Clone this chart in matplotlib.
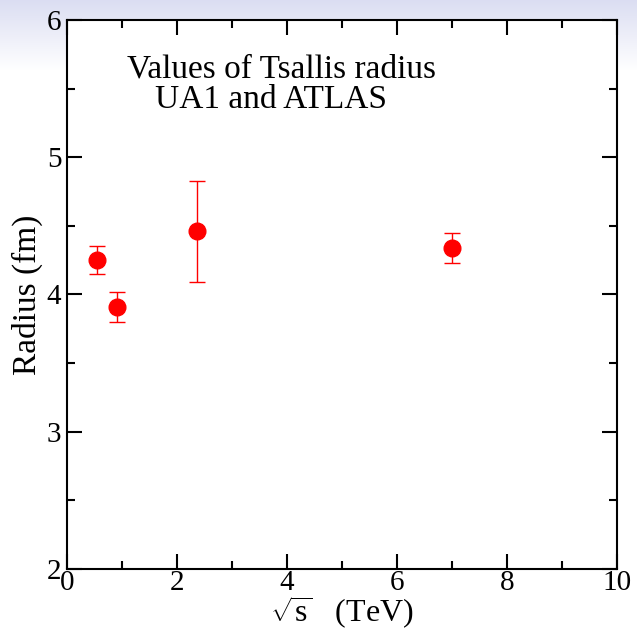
import numpy as np
import matplotlib
matplotlib.use("Agg")
import matplotlib.pyplot as plt
from matplotlib.ticker import MultipleLocator

# sqrt(s) in TeV, Tsallis radius (fm) and its error
energy = [0.546, 0.9, 2.36, 7.0]
radius = [4.25, 3.91, 4.46, 4.34]
radius_err = [0.10, 0.11, 0.37, 0.11]

plt.rcParams['font.family'] = ['Liberation Serif', 'DejaVu Serif']
plt.rcParams['mathtext.fontset'] = 'custom'
plt.rcParams['mathtext.rm'] = 'Liberation Serif'
plt.rcParams['mathtext.it'] = 'Liberation Serif'

fig = plt.figure(figsize=(6.37, 6.38), dpi=100)

# ---- soft gradient band at the top of the page ----
bg = fig.add_axes([0, 0, 1, 1], zorder=-10)
grad = np.ones((638, 1, 3))
top = np.array([0.86, 0.87, 0.95])
fade = np.clip(1 - np.arange(638) / 70.0, 0, 1)[:, None]
grad[:, 0, :] = 1 - fade * (1 - top)
bg.imshow(grad, aspect='auto', extent=[0, 1, 0, 1], origin='upper')
bg.axis('off')

ax = fig.add_axes([0.1052, 0.1082, 0.8634, 0.8605])
ax.errorbar(energy, radius, yerr=radius_err, fmt='o', color='red',
            markersize=12, capsize=5.5, elinewidth=1, capthick=1)

ax.set_xlim(0, 10)
ax.set_ylim(2, 6)
ax.xaxis.set_major_locator(MultipleLocator(2))
ax.xaxis.set_minor_locator(MultipleLocator(1))
ax.yaxis.set_major_locator(MultipleLocator(1))
ax.yaxis.set_minor_locator(MultipleLocator(0.5))
ax.tick_params(which='both', direction='in', top=True, right=True, width=1.5,
               labelsize=21)
ax.tick_params(which='major', length=11)
ax.tick_params(which='minor', length=5.5)
ax.tick_params(axis='x', pad=1)
ax.tick_params(axis='y', pad=4)
for sp in ax.spines.values():
    sp.set_linewidth(1.5)

ax.set_xlabel(r'$\sqrt{\rm s}$   (TeV)', fontsize=23, labelpad=-1)
ax.set_ylabel('Radius (fm)', fontsize=24, labelpad=3)

ax.text(1.09, 5.64, 'Values of Tsallis radius', fontsize=24, va='center')
ax.text(1.6, 5.42, 'UA1 and ATLAS', fontsize=24, va='center')

fig.savefig('out.png', dpi=100)
